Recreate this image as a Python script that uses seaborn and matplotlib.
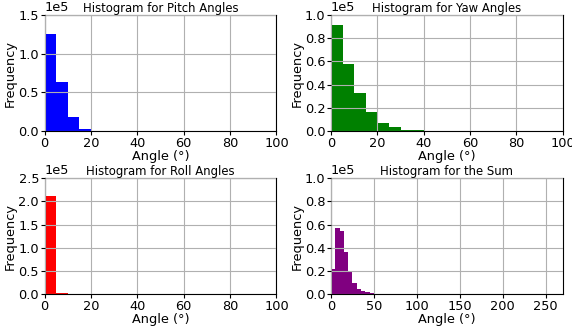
import numpy as np
import pandas as pd
import matplotlib
matplotlib.use("Agg")
import matplotlib.pyplot as plt
from matplotlib.ticker import MultipleLocator
import seaborn as sns

# bin counts (bin width 5 degrees)
pitch_counts = [125000, 64000, 18000, 2500]
yaw_counts = [91000, 57500, 32500, 16500, 7000, 3500, 1500, 1500]
roll_counts = [211000, 2500]
sum_counts = [22000, 57000, 54500, 36500, 20000, 10000, 5000, 3000, 2000, 1000]

panels = [
    ("Histogram for Pitch Angles", pitch_counts, "blue", 150000, 50000, 100, 20),
    ("Histogram for Yaw Angles", yaw_counts, "green", 100000, 20000, 100, 20),
    ("Histogram for Roll Angles", roll_counts, "red", 250000, 50000, 100, 20),
    ("Histogram for the Sum", sum_counts, "purple", 100000, 20000, 270, 50),
]

plt.rcParams["font.size"] = 9.3
fig, axes = plt.subplots(2, 2, figsize=(5.72, 3.29), dpi=100)

for ax, (title, counts, color, ymax, ystep, xmax, xstep) in zip(axes.flat, panels):
    edges = list(np.arange(len(counts) + 1) * 5)
    df = pd.DataFrame({"angle": np.array(edges[:-1]) + 2.5, "count": counts})
    sns.histplot(data=df, x="angle", weights="count", bins=edges, color=color,
                 alpha=1, linewidth=0, ax=ax)
    ax.set_xlim(0, xmax)
    ax.set_ylim(0, ymax)
    ax.xaxis.set_major_locator(MultipleLocator(xstep))
    ax.yaxis.set_major_locator(MultipleLocator(ystep))
    ax.set_title(title, fontsize=8.4, pad=1)
    ax.set_xlabel("Angle (°)", labelpad=0)
    ax.set_ylabel("Frequency", labelpad=1)
    ax.ticklabel_format(axis="y", style="sci", scilimits=(0, 0))
    ax.grid(True, color="#b0b0b0", linewidth=0.8)
    ax.set_axisbelow(False)
    ax.tick_params(length=3, pad=1)
    ax.yaxis.get_offset_text().set_fontsize(9.3)

plt.subplots_adjust(left=0.078, right=0.984, top=0.955, bottom=0.105,
                    wspace=0.235, hspace=0.4)
plt.savefig("out.png", dpi=100)
